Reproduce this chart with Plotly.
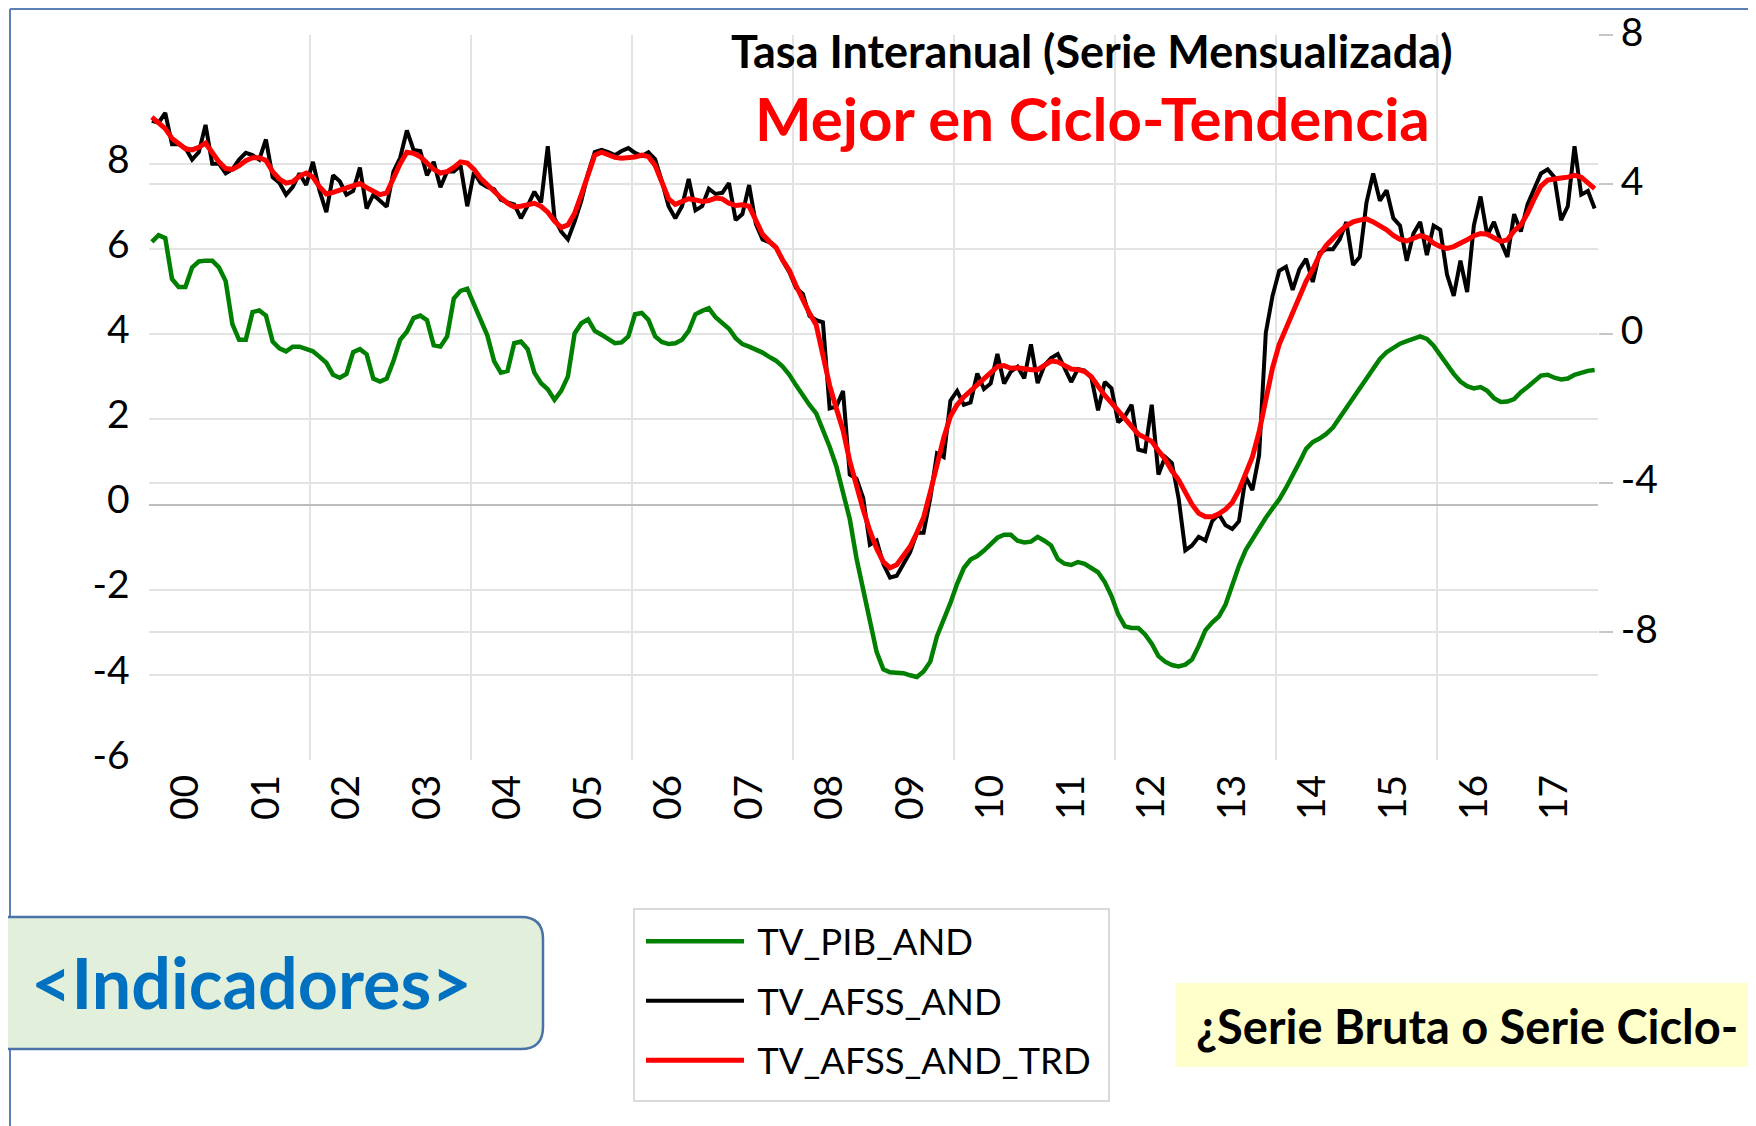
import numpy as np
import plotly.graph_objects as go

W, H = 1756, 1126
OFF = 8  # margen del body de la pagina html

# etiquetas del eje de categorias (un año cada 12 meses)
years = ["00", "01", "02", "03", "04", "05", "06", "07", "08",
         "09", "10", "11", "12", "13", "14", "15", "16", "17"]

# tasa interanual PIB Andalucia (eje izquierdo)
tv_pib_and = [
    6.17, 6.33, 6.26, 5.30, 5.11, 5.11, 5.57, 5.71, 5.73, 5.73,
    5.57, 5.25, 4.24, 3.87, 3.87, 4.52, 4.56, 4.44, 3.83, 3.67,
    3.60, 3.71, 3.71, 3.65, 3.60, 3.47, 3.33, 3.05, 2.98, 3.07,
    3.58, 3.65, 3.53, 2.96, 2.89, 2.96, 3.37, 3.87, 4.06, 4.38,
    4.44, 4.33, 3.74, 3.71, 3.95, 4.84, 5.02, 5.07, 4.70, 4.32,
    3.97, 3.37, 3.10, 3.14, 3.79, 3.83, 3.65, 3.10, 2.85, 2.71,
    2.46, 2.67, 3.01, 4.02, 4.26, 4.35, 4.08, 3.99, 3.90, 3.79,
    3.81, 3.95, 4.47, 4.50, 4.34, 3.95, 3.82, 3.77, 3.79, 3.87,
    4.08, 4.47, 4.55, 4.61, 4.40, 4.26, 4.13, 3.91, 3.77, 3.71,
    3.65, 3.57, 3.47, 3.38, 3.24, 3.05, 2.80, 2.55, 2.34, 2.14,
    1.77, 1.36, 0.90, 0.30, -0.34, -1.26, -2.04, -2.73, -3.46, -3.87,
    -3.94, -3.96, -3.96, -4.01, -4.05, -3.92, -3.69, -3.09, -2.72, -2.31,
    -1.86, -1.49, -1.29, -1.21, -1.08, -0.94, -0.78, -0.71, -0.71, -0.85,
    -0.89, -0.87, -0.76, -0.85, -0.96, -1.28, -1.39, -1.42, -1.35, -1.39,
    -1.48, -1.59, -1.82, -2.15, -2.58, -2.86, -2.90, -2.90, -3.05, -3.27,
    -3.56, -3.69, -3.77, -3.80, -3.76, -3.64, -3.32, -2.95, -2.77, -2.63,
    -2.35, -1.89, -1.44, -1.07, -0.80, -0.53, -0.31, -0.09, 0.12, 0.39,
    0.67, 0.99, 1.31, 1.47, 1.55, 1.66, 1.81, 2.04, 2.27, 2.50,
    2.73, 2.96, 3.19, 3.42, 3.58, 3.69, 3.78, 3.84, 3.89, 3.95,
    3.89, 3.73, 3.51, 3.28, 3.07, 2.89, 2.78, 2.73, 2.76, 2.67,
    2.50, 2.41, 2.42, 2.48, 2.64, 2.76, 2.90, 3.03, 3.05, 2.98,
    2.94, 2.96, 3.05, 3.10, 3.14, 3.16,
]

# afiliados seguridad social, serie bruta (eje derecho)
tv_afss_and = [
    5.70, 5.65, 5.91, 5.07, 5.07, 4.97, 4.66, 4.86, 5.59, 4.55,
    4.55, 4.29, 4.40, 4.66, 4.84, 4.78, 4.66, 5.20, 4.19, 4.04,
    3.72, 3.93, 4.29, 3.98, 4.60, 3.82, 3.25, 4.24, 4.08, 3.72,
    3.82, 4.45, 3.35, 3.72, 3.56, 3.40, 4.34, 4.71, 5.44, 4.92,
    4.89, 4.24, 4.60, 3.92, 4.34, 4.34, 4.50, 3.41, 4.32, 4.03,
    3.92, 3.87, 3.59, 3.51, 3.46, 3.09, 3.42, 3.80, 3.51, 5.02,
    3.09, 2.73, 2.52, 3.00, 3.56, 4.29, 4.86, 4.92, 4.86, 4.78,
    4.89, 4.97, 4.84, 4.76, 4.86, 4.67, 4.08, 3.41, 3.09, 3.41,
    4.14, 3.30, 3.41, 3.88, 3.74, 3.77, 4.03, 3.04, 3.20, 3.98,
    2.94, 2.52, 2.45, 2.31, 1.95, 1.64, 1.22, 1.06, 0.47, 0.36,
    0.30, -2.01, -1.96, -1.54, -3.78, -3.89, -4.41, -5.66, -5.55, -6.18,
    -6.54, -6.49, -6.18, -5.86, -5.34, -5.34, -4.41, -3.21, -3.31, -1.80,
    -1.54, -1.91, -1.85, -1.07, -1.49, -1.34, -0.55, -1.34, -1.02, -0.89,
    -1.20, -0.29, -1.33, -0.86, -0.66, -0.55, -0.92, -1.30, -0.95, -0.99,
    -1.18, -2.06, -1.30, -1.47, -2.38, -2.22, -1.91, -3.11, -3.16, -1.91,
    -3.78, -3.31, -3.47, -4.41, -5.81, -5.68, -5.45, -5.55, -5.03, -4.84,
    -5.14, -5.24, -5.03, -3.84, -4.20, -3.26, 0.02, 1.01, 1.68, 1.79,
    1.17, 1.72, 2.00, 1.38, 2.16, 2.26, 2.26, 2.52, 2.99, 1.84,
    2.05, 3.51, 4.29, 3.56, 3.84, 3.09, 2.89, 1.95, 2.68, 2.99,
    2.10, 2.89, 2.78, 1.58, 1.01, 1.95, 1.11, 2.89, 3.67, 2.63,
    2.99, 2.47, 2.05, 3.20, 2.73, 3.46, 3.88, 4.29, 4.40, 4.19,
    3.04, 3.41, 5.02, 3.72, 3.82, 3.35,
]

# afiliados, ciclo-tendencia (eje derecho)
tv_afss_and_trd = [
    5.80, 5.65, 5.49, 5.23, 5.07, 4.95, 4.92, 4.99, 5.10, 4.86,
    4.60, 4.42, 4.40, 4.50, 4.63, 4.71, 4.71, 4.64, 4.34, 4.14,
    4.03, 4.07, 4.22, 4.30, 4.19, 3.93, 3.74, 3.78, 3.84, 3.91,
    3.98, 4.02, 3.91, 3.80, 3.72, 3.77, 4.19, 4.55, 4.86, 4.83,
    4.74, 4.55, 4.40, 4.30, 4.34, 4.45, 4.60, 4.57, 4.40, 4.16,
    3.98, 3.84, 3.64, 3.49, 3.39, 3.41, 3.46, 3.49, 3.41, 3.25,
    3.01, 2.84, 2.91, 3.22, 3.72, 4.29, 4.78, 4.86, 4.80, 4.72,
    4.70, 4.70, 4.73, 4.78, 4.74, 4.50, 4.03, 3.61, 3.46, 3.53,
    3.61, 3.58, 3.54, 3.56, 3.63, 3.61, 3.49, 3.43, 3.45, 3.41,
    3.05, 2.66, 2.47, 2.31, 1.97, 1.69, 1.28, 0.89, 0.54, 0.23,
    -0.55, -1.39, -2.01, -2.59, -3.42, -4.09, -4.72, -5.29, -5.76, -6.12,
    -6.28, -6.20, -5.97, -5.71, -5.34, -4.93, -4.25, -3.52, -2.80, -2.22,
    -1.91, -1.70, -1.54, -1.39, -1.23, -1.05, -0.89, -0.86, -0.93, -0.92,
    -0.96, -0.97, -0.97, -0.86, -0.74, -0.76, -0.86, -0.95, -0.97, -1.02,
    -1.16, -1.44, -1.66, -1.86, -2.07, -2.28, -2.49, -2.70, -2.79, -2.89,
    -3.14, -3.37, -3.68, -3.92, -4.25, -4.58, -4.82, -4.91, -4.91, -4.83,
    -4.71, -4.53, -4.20, -3.78, -3.31, -2.64, -1.80, -0.92, -0.29, 0.13,
    0.49, 0.91, 1.40, 1.72, 2.10, 2.36, 2.57, 2.73, 2.89, 2.99,
    3.04, 3.07, 2.99, 2.89, 2.78, 2.63, 2.52, 2.48, 2.55, 2.62,
    2.57, 2.42, 2.33, 2.28, 2.33, 2.41, 2.51, 2.62, 2.68, 2.66,
    2.57, 2.47, 2.51, 2.75, 2.91, 3.22, 3.61, 3.95, 4.11, 4.15,
    4.17, 4.19, 4.24, 4.19, 4.05, 3.88,
]

left_ticks = [-6, -4, -2, 0, 2, 4, 6, 8]
right_ticks = [-8, -4, 0, 4, 8]

FONT = "Lato"
GRID = "#e3e3e3"

months = np.arange(len(tv_pib_and))

# area de trazado en pixeles de pantalla
PX_L, PX_R, PX_T, PX_B = 148.5, 1598, 35, 760


def fx(p):
    return (p - OFF) / W


def fy(p):
    return 1 - (p - OFF) / H


fig = go.Figure()
series = [
    ("TV_PIB_AND", tv_pib_and, "#008000", 4.5, "y"),
    ("TV_AFSS_AND", tv_afss_and, "#000000", 4, "y2"),
    ("TV_AFSS_AND_TRD", tv_afss_and_trd, "#ff0000", 5, "y2"),
]
for name, vals, color, width, axis in series:
    fig.add_trace(
        go.Scatter(
            x=months, y=vals, name="\u00a0" + name, mode="lines", yaxis=axis,
            legendgroup=name, line={"color": color, "width": width},
        )
    )

tick_font = {"family": FONT, "size": 39, "color": "#000000"}

fig.update_layout(
    width=W,
    height=H,
    margin={"l": 0, "r": 0, "t": 0, "b": 0},
    paper_bgcolor="white",
    plot_bgcolor="white",
    font={"family": FONT, "color": "#000000"},
    xaxis={
        "domain": [fx(PX_L), fx(PX_R)],
        "range": [-0.5, len(months) - 0.5],
        "tickmode": "array",
        "tickvals": [5 + 12 * i for i in range(len(years))],
        "ticktext": years,
        "tickangle": -90,
        "tickfont": tick_font,
        "ticks": "",
        "ticklabelstandoff": 6,
        "showgrid": False,
        "zeroline": False,
        "showline": False,
        "automargin": False,
        "minor": {
            "tickmode": "array",
            "tickvals": [24 * k - 0.5 for k in range(1, 9)],
            "showgrid": True,
            "gridcolor": GRID,
            "gridwidth": 2,
        },
    },
    yaxis={
        "domain": [fy(PX_B), fy(PX_T)],
        "range": [-6, 11.03],
        "tickmode": "array",
        "tickvals": left_ticks,
        "ticktext": [str(v) for v in left_ticks],
        "tickfont": tick_font,
        "ticks": "",
        "ticklabelstandoff": 18,
        "ticklabelshift": -5,
        "ticklabeloverflow": "allow",
        "showgrid": False,
        "zeroline": True,
        "zerolinecolor": "#bdbdbd",
        "zerolinewidth": 2,
        "showline": False,
        "automargin": False,
        "minor": {
            "tickmode": "array",
            "tickvals": left_ticks[1:],
            "showgrid": True,
            "gridcolor": GRID,
            "gridwidth": 2,
        },
    },
    yaxis2={
        "overlaying": "y",
        "side": "right",
        "anchor": "x",
        "range": [-11.43, 8],
        "tickmode": "array",
        "tickvals": right_ticks,
        "ticktext": [str(v) for v in right_ticks],
        "tickfont": tick_font,
        "ticks": "outside",
        "ticklen": 14,
        "tickwidth": 2,
        "tickcolor": "#c6c6c6",
        "ticklabelstandoff": 0,
        "ticklabelshift": -3,
        "ticklabeloverflow": "allow",
        "showgrid": False,
        "zeroline": False,
        "showline": False,
        "automargin": False,
        "minor": {
            "tickmode": "array",
            "tickvals": right_ticks[:-1],
            "showgrid": True,
            "gridcolor": GRID,
            "gridwidth": 2,
        },
    },
    showlegend=True,
    legend={
        "x": fx(641),
        "y": fy(911),
        "xanchor": "left",
        "yanchor": "top",
        "bgcolor": "rgba(0,0,0,0)",
        "borderwidth": 0,
        "font": {"family": FONT, "size": 36.5, "color": "#000000"},
        "itemwidth": 98,
        "tracegroupgap": 9,
    },
)

# marco de la diapositiva
fig.add_shape(type="line", xref="paper", yref="paper",
              x0=fx(10), x1=fx(W + 20), y0=fy(9), y1=fy(9),
              line={"color": "#5b80b6", "width": 2})
fig.add_shape(type="line", xref="paper", yref="paper",
              x0=fx(10), x1=fx(10), y0=fy(9), y1=fy(H + 20),
              line={"color": "#5b80b6", "width": 2})

# recuadro de la leyenda
fig.add_shape(type="rect", xref="paper", yref="paper", layer="below",
              x0=fx(634), x1=fx(1109), y0=fy(909), y1=fy(1101),
              fillcolor="white", line={"color": "#dadada", "width": 2})

# caja verde redondeada a la izquierda
bx0, bx1, by0, by1, r = -30, 543, 917, 1049, 22
path = (
    f"M {fx(bx0)},{fy(by0)} L {fx(bx1 - r)},{fy(by0)} "
    f"Q {fx(bx1)},{fy(by0)} {fx(bx1)},{fy(by0 + r)} "
    f"L {fx(bx1)},{fy(by1 - r)} "
    f"Q {fx(bx1)},{fy(by1)} {fx(bx1 - r)},{fy(by1)} "
    f"L {fx(bx0)},{fy(by1)} Z"
)
fig.add_shape(type="path", xref="paper", yref="paper", path=path,
              fillcolor="#e2efda", line={"color": "#4a72a6", "width": 2.5})

# caja amarilla a la derecha
fig.add_shape(type="rect", xref="paper", yref="paper",
              x0=fx(1176), x1=fx(W + 20), y0=fy(983), y1=fy(1067),
              fillcolor="#ffffcc", line={"width": 0})

fig.add_annotation(
    text="<b>Tasa Interanual (Serie Mensualizada)</b>",
    x=fx(1092), y=fy(51), xref="paper", yref="paper",
    xanchor="center", yanchor="middle", showarrow=False,
    font={"family": FONT, "size": 45, "color": "#000000"},
)
fig.add_annotation(
    text="<b>Mejor en Ciclo-Tendencia</b>",
    x=fx(1092), y=fy(118), xref="paper", yref="paper",
    xanchor="center", yanchor="middle", showarrow=False,
    font={"family": FONT, "size": 60, "color": "#ff0000"},
)
fig.add_annotation(
    text="<b>&lt;Indicadores&gt;</b>",
    x=fx(474), y=fy(982), xref="paper", yref="paper",
    xanchor="right", yanchor="middle", showarrow=False,
    font={"family": FONT, "size": 70, "color": "#0070c0"},
)
fig.add_annotation(
    text="<b>¿Serie Bruta o Serie Ciclo-</b>",
    x=fx(1194), y=fy(1026), xref="paper", yref="paper",
    xanchor="left", yanchor="middle", showarrow=False,
    font={"family": FONT, "size": 47, "color": "#000000"},
)

fig.write_html("out.html")
